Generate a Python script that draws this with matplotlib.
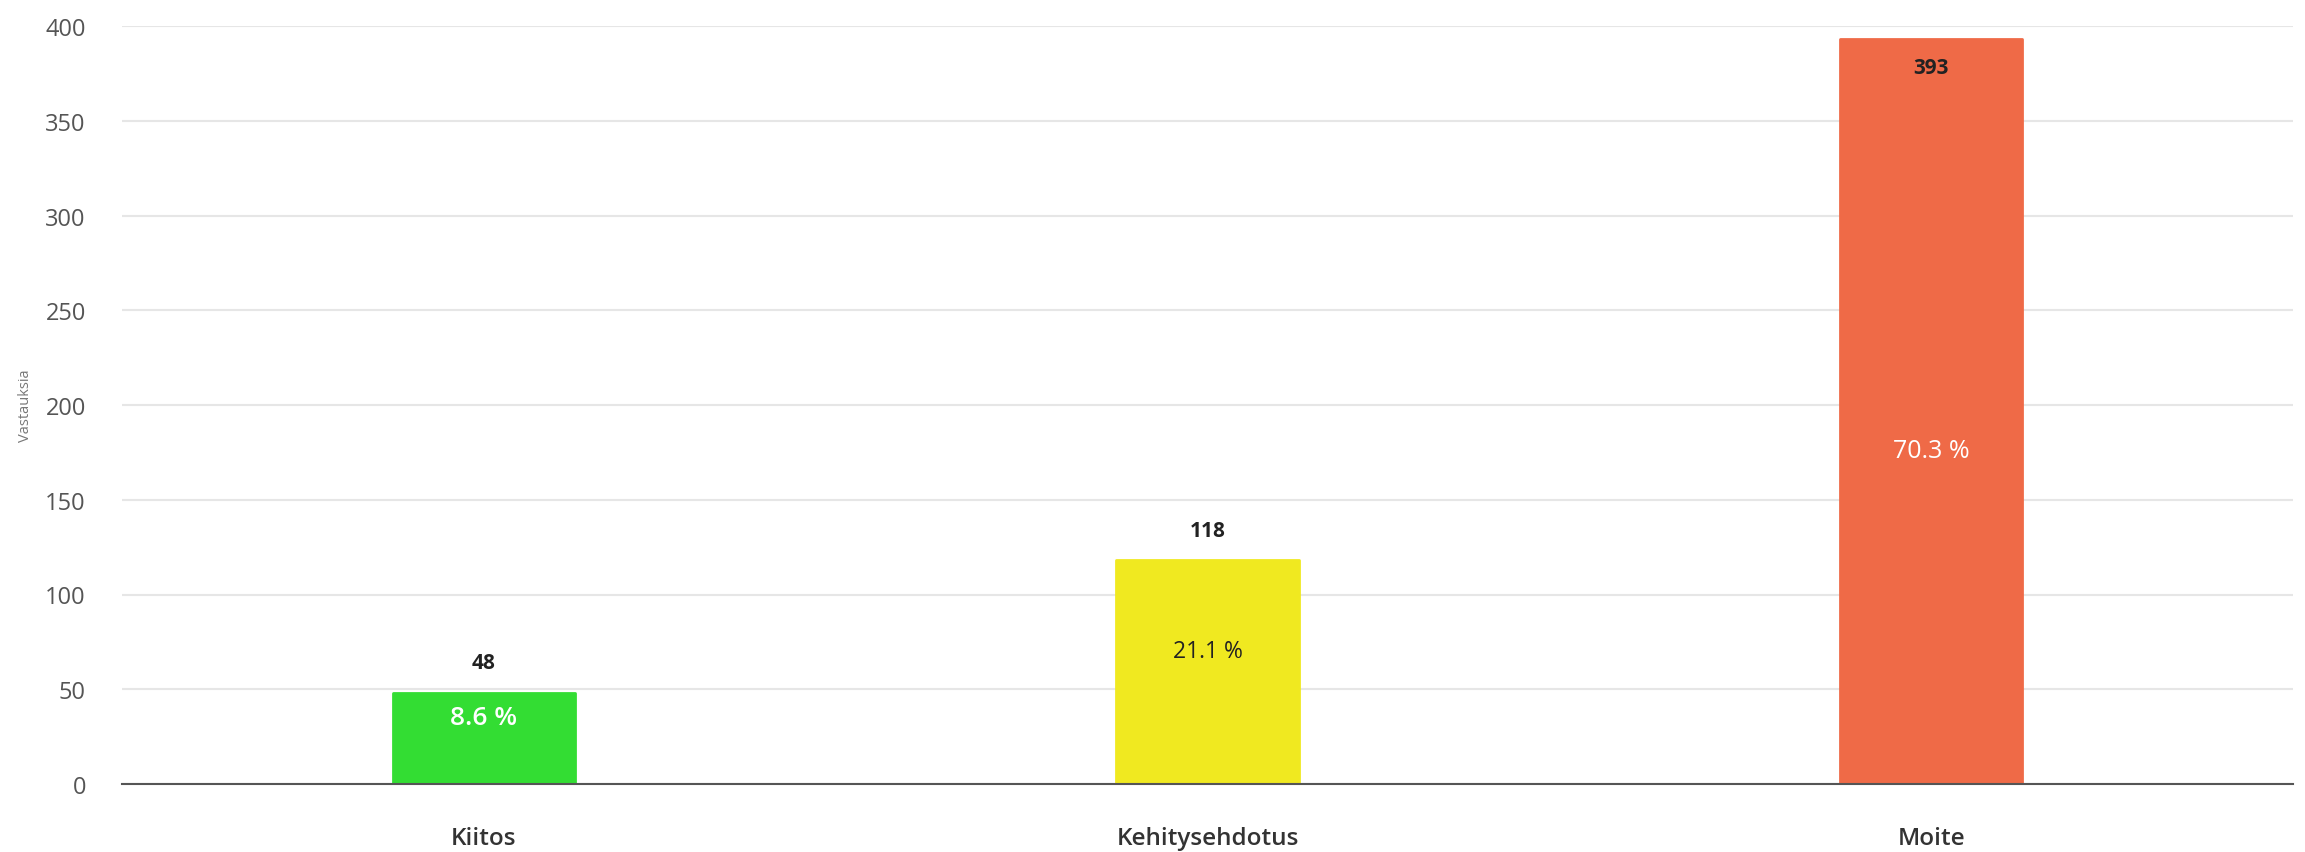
import matplotlib.pyplot as plt

# Palautteet tyypeittäin
categories = ["Kiitos", "Kehitysehdotus", "Moite"]
counts = [48, 118, 393]
percents = ["8.6 %", "21.1 %", "70.3 %"]
bar_colors = ["#33dd33", "#f0e920", "#ef6a47"]
pct_colors = ["white", "#222222", "white"]
pct_sizes = [19, 16.5, 18]
pct_weights = ['semibold', 'normal', 'normal']
pct_label_y = [35, 70, 176]

plt.rcParams['font.family'] = ['Open Sans', 'DejaVu Sans']

fig = plt.figure(figsize=(23.05, 8.53), dpi=100)
ax = fig.add_axes([122 / 2305, 1 - 785 / 853, (2293 - 122) / 2305, (785 - 27) / 853])

x = range(len(categories))
ax.bar(x, counts, width=0.252, color=bar_colors, edgecolor=bar_colors,
       linewidth=2, joinstyle='round', zorder=2)

for i, (c, p) in enumerate(zip(counts, percents)):
    # arvo palkin yläpuolelle, tai sisään jos ei mahdu
    if c + 25 > 400:
        ax.text(i, c - 15, str(c), ha='center', va='center', fontsize=15,
                fontweight='bold', color='#222222', zorder=3)
    else:
        ax.text(i, c + 16, str(c), ha='center', va='center', fontsize=15,
                fontweight='bold', color='#222222', zorder=3)
    ax.text(i, pct_label_y[i], p, ha='center', va='center', fontsize=pct_sizes[i],
            fontweight=pct_weights[i], color=pct_colors[i], zorder=3)

ax.set_xlim(-0.5, 2.5)
ax.set_ylim(0, 400)
ax.set_yticks(range(0, 401, 50))
ax.set_xticks(list(x))
ax.set_xticklabels(categories, fontsize=17.5, fontweight='semibold', color='#333333')
ax.tick_params(axis='x', length=0, pad=30)
ax.tick_params(axis='y', length=0, pad=26, labelsize=17, labelcolor='#555555')
ax.set_ylabel("Vastauksia", fontsize=10.5, color='#777777', labelpad=9)

ax.grid(axis='y', color='#e6e6e6', linewidth=1.5, zorder=0)
for s in ['top', 'right', 'left']:
    ax.spines[s].set_visible(False)
ax.spines['bottom'].set_color('#555555')
ax.spines['bottom'].set_linewidth(1.5)
ax.spines['bottom'].set_zorder(4)

fig.savefig("out.png", dpi=100)
